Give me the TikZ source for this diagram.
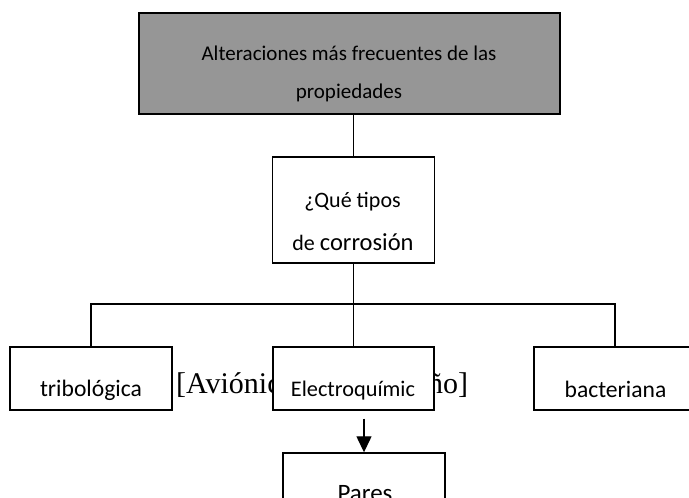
\documentclass[tikz,border=0pt]{standalone}
\usepackage{fontspec}
\setmainfont{Carlito}
\newfontfamily\serifb{Liberation Serif}
\usetikzlibrary{arrows.meta}
\definecolor{boxgray}{RGB}{150,150,150}
\newcommand\fsz[1]{\fontsize{#1}{#1}\selectfont}
\tikzset{
  box/.style={draw=black, line width=1.4pt, minimum width=#1, inner sep=0pt, fill=white},
  lbl/.style={anchor=base, inner sep=0pt, font=\fsz{21}},
  conn/.style={draw=black, line width=1.3pt},
}
\begin{document}
\begin{tikzpicture}[x=1pt,y=-1pt]
\useasboundingbox (0,0) rectangle (689,498);
\clip (0,0) rectangle (689,498);
% top box
\node[box=421pt, minimum height=101pt, fill=boxgray] (top) at (349.5,63.5) {};
\node[lbl] (t1) at (349,60) {Alteraciones más frecuentes de las};
\node[lbl] (t2) at (349,98) {propiedades};
% question box
\node[box=162pt, minimum height=106pt] (q) at (353.5,210) {};
\node[lbl, font=\fsz{22}] (q1) at (352.5,207) {¿Qué tipos};
\node[lbl, font=\fsz{22}] (q2) at (353,250) {de {\fsz{24.5}corrosión}};
% serif text behind
\node[anchor=base west, inner sep=0pt, font=\serifb\fsz{30}] (av) at (176,393) {[Aviónicos en el diseño]};
% level boxes
\node[box=162pt, minimum height=63pt] (trib) at (91,378.5) {};
\node[lbl, font=\fsz{23.6}] (trl) at (91,396) {tribológica};
\node[box=161pt, minimum height=63pt] (elec) at (353.5,378.5) {};
\node[lbl, font=\fsz{22.3}] (el) at (353,396) {Electroquímic};
\node[box=162pt, minimum height=63pt] (bact) at (615,378.5) {};
\node[lbl, font=\fsz{23.6}] (bl) at (615.5,397) {bacteriana};
\node[box=162pt, minimum height=80pt] (pares) at (364,493) {};
\node[lbl, font=\fsz{25}] (pl) at (365,501) {Pares};
% connectors
\coordinate (bus) at (353.5,304);
\draw[conn] (q.north |- top.south) -- (q.north);
\draw[conn] (q.south) -- (elec.north);
\draw[conn] (trib.north) |- (bus) -| (bact.north);
\draw[conn, -{Triangle[width=15pt,length=16pt]}] ([yshift=-8pt]elec.south -| pares.north) -- (pares.north);
\end{tikzpicture}
\end{document}
